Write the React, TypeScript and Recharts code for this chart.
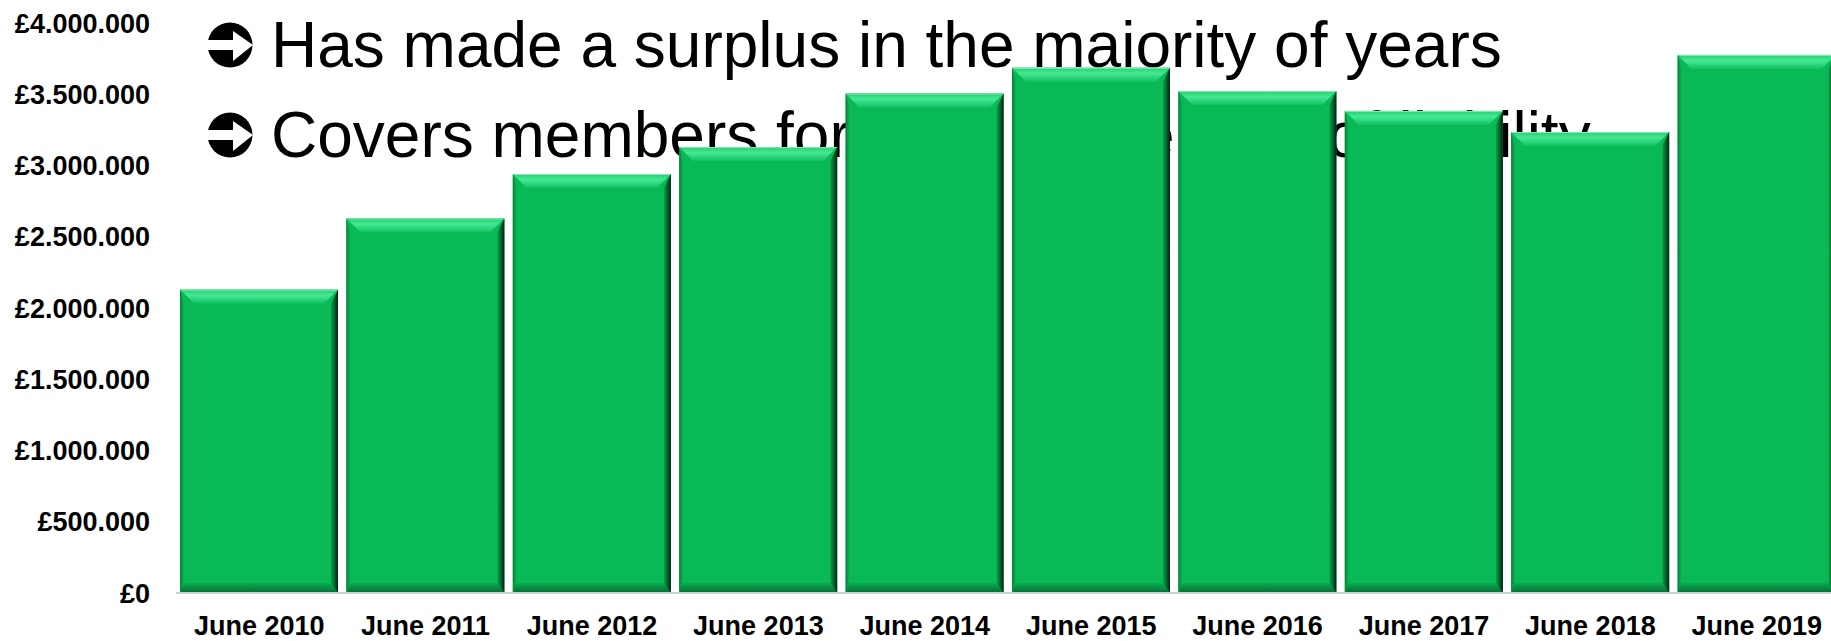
import React from 'react';
import { BarChart, Bar, XAxis, YAxis } from 'recharts';

const categories = ['June 2010', 'June 2011', 'June 2012', 'June 2013', 'June 2014', 'June 2015', 'June 2016', 'June 2017', 'June 2018', 'June 2019'];
const reserves = [2129000, 2629000, 2940000, 3129000, 3506000, 3686000, 3522000, 3383000, 3235000, 3776000];
const yTicks = [0, 500000, 1000000, 1500000, 2000000, 2500000, 3000000, 3500000, 4000000];
const yTickLabels = ['£0', '£500.000', '£1.000.000', '£1.500.000', '£2.000.000', '£2.500.000', '£3.000.000', '£3.500.000', '£4.000.000'];
const bulletLines = ['Has made a surplus in the maiority of years', 'Covers members for 90% of the cost of liability'];

const data = categories.map((name, i) => ({ name, value: reserves[i] }));

const FONT = '"Liberation Sans", Arial, Helvetica, sans-serif';

const BevelBar = (props: any) => {
  const { x, y, width, height, index } = props;
  if (!height || height <= 0) return null;
  const r = x + width;
  const b = y + height;
  const tb = 14; // top bevel depth
  const rb = 7; // right bevel width
  const lb = 4; // left bevel width
  const bb = 10; // bottom bevel depth
  const id = `bv${index}`;
  return (
    <g>
      <defs>
        <linearGradient id={`${id}t`} x1="0" y1="0" x2="0" y2="1">
          <stop offset="0" stopColor="#22cf74" />
          <stop offset="0.4" stopColor="#45e894" />
          <stop offset="1" stopColor="#12c262" />
        </linearGradient>
        <linearGradient id={`${id}r`} x1="0" y1="0" x2="1" y2="0">
          <stop offset="0" stopColor="#07a24a" />
          <stop offset="0.55" stopColor="#04602b" />
          <stop offset="1" stopColor="#071d10" />
        </linearGradient>
        <linearGradient id={`${id}b`} x1="0" y1="0" x2="0" y2="1">
          <stop offset="0" stopColor="#08ab4f" />
          <stop offset="1" stopColor="#056d34" />
        </linearGradient>
        <linearGradient id={`${id}l`} x1="0" y1="0" x2="1" y2="0">
          <stop offset="0" stopColor="#067f3b" />
          <stop offset="1" stopColor="#09b755" />
        </linearGradient>
      </defs>
      <rect x={x} y={y} width={width} height={height} fill="#09b955" />
      <polygon points={`${x},${y} ${x + lb},${y + tb} ${x + lb},${b - bb} ${x},${b}`} fill={`url(#${id}l)`} />
      <polygon points={`${x},${b} ${r},${b} ${r - rb},${b - bb} ${x + lb},${b - bb}`} fill={`url(#${id}b)`} />
      <polygon points={`${r},${y} ${r},${b} ${r - rb},${b - bb} ${r - rb},${y + tb}`} fill={`url(#${id}r)`} />
      <polygon points={`${x},${y} ${r},${y} ${r - tb},${y + tb} ${x + tb},${y + tb}`} fill={`url(#${id}t)`} />
      <line x1={x + 1} y1={y + 0.5} x2={r - 1} y2={y + 0.5} stroke="#8fe8b4" strokeWidth={1} />
    </g>
  );
};

const Bullet = ({ cy }: { cy: number }) => (
  <g>
    <circle cx={230} cy={cy} r={22.5} fill="#000" />
    <rect x={206} y={cy - 5} width={29} height={10} fill="#fff" />
    <polygon points={`${233},${cy - 14} ${253},${cy} ${233},${cy + 16}`} fill="#fff" />
  </g>
);

export default function App() {
  return (
    <div style={{ position: 'absolute', left: 0, top: 0, width: 1831, height: 641, overflow: 'hidden', background: '#ffffff' }}>
      <svg width={1831} height={641} style={{ position: 'absolute', left: 0, top: 0 }}>
        {bulletLines.map((line, i) => (
          <g key={i}>
            <Bullet cy={45 + i * 90} />
            <text x={271} y={67 + i * 90} fontFamily={FONT} fontSize={64} fill="#000">{line}</text>
          </g>
        ))}
      </svg>
      <div style={{ position: 'absolute', left: 0, top: 0 }}>
        <BarChart width={1840} height={641} data={data} margin={{ top: 23, right: 0, bottom: 0, left: 0 }} barCategoryGap={4}>
          <XAxis
            dataKey="name"
            interval={0}
            height={48}
            tickLine={false}
            tickSize={0}
            tickMargin={23}
            axisLine={{ stroke: '#c9d3cd', strokeWidth: 2 }}
            tick={{ fill: '#000', fontSize: 27, fontWeight: 'bold', fontFamily: FONT }}
          />
          <YAxis
            width={176}
            domain={[0, 4000000]}
            ticks={yTicks}
            interval={0}
            axisLine={false}
            tickLine={false}
            tickSize={0}
            tickMargin={26}
            tickFormatter={(v: number) => yTickLabels[yTicks.indexOf(v)]}
            tick={{ fill: '#000', fontSize: 27, fontWeight: 'bold', fontFamily: FONT }}
          />
          <Bar dataKey="value" isAnimationActive={false} shape={<BevelBar />} />
        </BarChart>
      </div>
    </div>
  );
}
